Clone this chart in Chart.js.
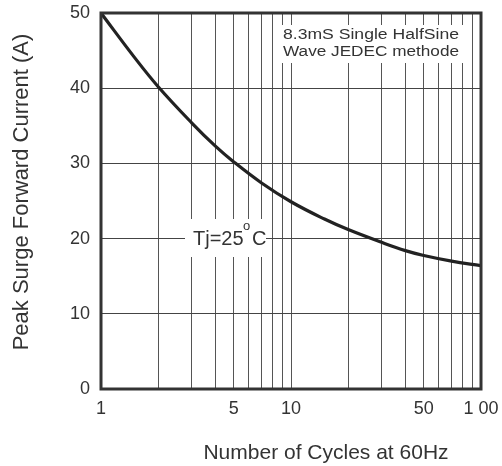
<!DOCTYPE html>
<html>
<head>
<meta charset="utf-8">
<script src="https://cdn.jsdelivr.net/npm/chart.js@4"></script>
<style>
  html, body { margin: 0; padding: 0; background: #fff; }
  #wrap { width: 502px; height: 466px; }
</style>
</head>
<body>
<div id="wrap"><canvas id="surge"></canvas></div>
<script>
// cycles (log scale) and peak surge current (A)
const cycles  = [1, 1.5, 2, 3, 4, 5, 7, 10, 15, 20, 30, 40, 50, 70, 100];
const current = [50, 44.1, 40.2, 35.4, 32.3, 30.2, 27.4, 24.9, 22.6, 21.2, 19.5, 18.4, 17.75, 17.0, 16.4];

const gridCycles = [1, 2, 3, 4, 5, 6, 7, 8, 9, 10, 20, 30, 40, 50, 60, 70, 80, 90, 100];
const xLabels = { 1: '1', 5: '5', 10: '10', 50: '50', 100: '1 00' };
const yTicks = [0, 10, 20, 30, 40, 50];

const FONT = '"Liberation Sans", Arial, sans-serif';
const INK = '#333';

function noPad(s) {
  s.paddingLeft = s.paddingRight = s.paddingTop = s.paddingBottom = 0;
}

// text stretched to a given width (the reference lettering is wide)
function wideText(ctx, text, cx, cy, width) {
  const w = ctx.measureText(text).width;
  ctx.save();
  ctx.translate(cx, cy);
  ctx.scale(width / w, 1);
  ctx.fillText(text, 0, 0);
  ctx.restore();
}

const frame = {
  id: 'frame',
  beforeDatasetsDraw(chart) {
    const { ctx } = chart;
    ctx.save();
    ctx.fillStyle = '#fff';
    // note box top right + Tj label box
    ctx.fillRect(278, 25, 186, 38);
    ctx.fillRect(185, 219, 81, 38);

    ctx.fillStyle = INK;
    ctx.font = '14px ' + FONT;
    ctx.textAlign = 'center';
    ctx.textBaseline = 'middle';
    wideText(ctx, '8.3mS Single HalfSine', 371, 35, 176);
    wideText(ctx, 'Wave JEDEC methode', 371, 52, 176);

    ctx.font = '20px ' + FONT;
    ctx.textAlign = 'left';
    ctx.textBaseline = 'alphabetic';
    ctx.fillText('Tj=25', 193, 245);
    ctx.font = '13px ' + FONT;
    ctx.fillText('o', 243, 230);
    ctx.font = '20px ' + FONT;
    ctx.fillText('C', 252, 245);
    ctx.restore();
  },
  afterDraw(chart) {
    const { ctx, chartArea: a } = chart;
    ctx.save();
    ctx.strokeStyle = INK;
    ctx.lineWidth = 3;
    ctx.strokeRect(a.left, a.top, a.right - a.left, a.bottom - a.top);

    ctx.fillStyle = INK;
    ctx.textAlign = 'center';
    ctx.textBaseline = 'middle';
    ctx.font = '21px ' + FONT;
    ctx.fillText('Number of Cycles at 60Hz', 326, 453);

    ctx.font = '22px ' + FONT;
    ctx.translate(22, 192);
    ctx.rotate(-Math.PI / 2);
    ctx.fillText('Peak Surge Forward Current (A)', 0, 0);
    ctx.restore();
  }
};

new Chart(document.getElementById('surge'), {
  type: 'line',
  data: {
    datasets: [{
      data: cycles.map((c, i) => ({ x: c, y: current[i] })),
      borderColor: '#222',
      borderWidth: 3.2,
      pointRadius: 0,
      tension: 0.4,
      fill: false
    }]
  },
  options: {
    responsive: true,
    maintainAspectRatio: false,
    animation: false,
    layout: { padding: { left: 0, top: 13, right: 21, bottom: 0 } },
    plugins: { legend: { display: false }, tooltip: { enabled: false } },
    scales: {
      x: {
        type: 'logarithmic',
        min: 1,
        max: 100,
        afterBuildTicks: s => { s.ticks = gridCycles.map(v => ({ value: v })); },
        afterFit: s => { s.height = 77; noPad(s); },
        grid: { color: '#555', lineWidth: 1, drawTicks: false },
        border: { display: false },
        ticks: {
          autoSkip: false,
          maxRotation: 0,
          padding: 9,
          color: INK,
          font: { family: FONT, size: 18 },
          callback: v => xLabels[v] || ''
        }
      },
      y: {
        min: 0,
        max: 50,
        afterBuildTicks: s => { s.ticks = yTicks.map(v => ({ value: v })); },
        afterFit: s => { s.width = 101; noPad(s); },
        grid: { color: '#444', lineWidth: 1, drawTicks: false },
        border: { display: false },
        ticks: {
          padding: 11,
          color: INK,
          font: { family: FONT, size: 18 }
        }
      }
    }
  },
  plugins: [frame]
});
</script>
</body>
</html>
